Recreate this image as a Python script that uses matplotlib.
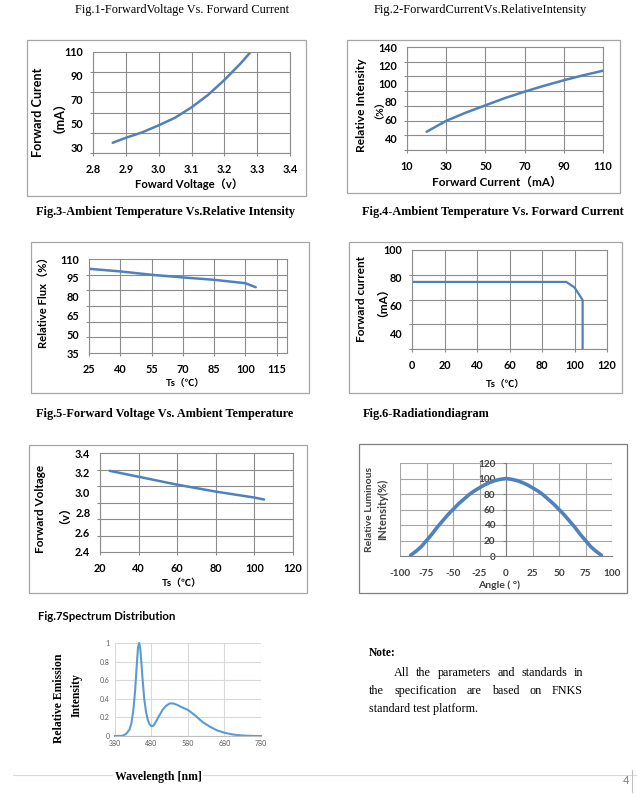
import numpy as np
import matplotlib
matplotlib.use('Agg')
import matplotlib.pyplot as plt
from matplotlib.patches import Rectangle
from matplotlib.lines import Line2D

plt.rcParams['axes.unicode_minus'] = False

W, H = 637, 794

# ---------------- data ----------------
fig1_voltage = [2.86, 2.90, 2.95, 3.00, 3.05, 3.10, 3.15, 3.20, 3.25, 3.28]
fig1_current = [33.6, 37.8, 42.4, 48.3, 54.7, 63.4, 73.8, 86.4, 100.5, 110.0]
fig1_xticks = [2.8, 2.9, 3.0, 3.1, 3.2, 3.3, 3.4]
fig1_yticks = [30, 50, 70, 90, 110]

fig2_current = [20, 30, 40, 50, 60, 70, 80, 90, 100, 110]
fig2_intensity = [47, 59, 68, 76, 84, 91, 97.5, 103.5, 109, 114]
fig2_xticks = [10, 30, 50, 70, 90, 110]
fig2_yticks = [40, 60, 80, 100, 120, 140]

fig3_temp = [25, 40, 55, 70, 85, 100, 105]
fig3_flux = [102.2, 100.1, 97.4, 95.3, 93.4, 90.7, 87.5]
fig3_xticks = [25, 40, 55, 70, 85, 100, 115]
fig3_yticks = [35, 50, 65, 80, 95, 110]

fig4_temp = [0, 95, 100, 105, 105]
fig4_current = [77, 77, 73, 64, 20]
fig4_xticks = [0, 20, 40, 60, 80, 100, 120]
fig4_yticks = [40, 60, 80, 100]

fig5_temp = [25, 40, 60, 80, 100, 105]
fig5_vf = [3.22, 3.16, 3.08, 3.01, 2.95, 2.93]
fig5_xticks = [20, 40, 60, 80, 100, 120]
fig5_yticks = [2.4, 2.6, 2.8, 3.0, 3.2, 3.4]

fig6_angle = [-90, -85, -80, -75, -70, -65, -60, -55, -50, -45, -40, -35, -30, -25, -20, -15, -10, -5, 0,
              5, 10, 15, 20, 25, 30, 35, 40, 45, 50, 55, 60, 65, 70, 75, 80, 85, 90]
fig6_intensity = [1, 6, 12, 20, 28, 37, 45, 53, 60, 67, 73, 79, 84, 88, 92, 95, 97.5, 99, 100,
                  99, 97.5, 95, 92, 88, 84, 79, 73, 67, 60, 53, 45, 37, 28, 20, 12, 6, 1]
fig6_xticks = [-100, -75, -50, -25, 0, 25, 50, 75, 100]
fig6_yticks = [0, 20, 40, 60, 80, 100, 120]

fig7_wavelength = [380, 400, 410, 420, 425, 430, 435, 440, 443, 446, 449, 452, 455, 460, 465, 470, 475, 480,
                   485, 490, 500, 510, 520, 530, 540, 550, 560, 580, 600, 620, 640, 660, 680, 700, 720,
                   740, 760, 780]
fig7_intensity = [0, 0.002, 0.02, 0.07, 0.14, 0.27, 0.48, 0.78, 0.95, 1.0, 0.95, 0.8, 0.64, 0.4, 0.26, 0.17,
                  0.125, 0.105, 0.11, 0.14, 0.21, 0.28, 0.325, 0.35, 0.35, 0.335, 0.315, 0.28, 0.22, 0.15,
                  0.1, 0.06, 0.035, 0.018, 0.008, 0.003, 0.001, 0]
fig7_xticks = [380, 480, 580, 680, 780]
fig7_yticks = [0, 0.2, 0.4, 0.6, 0.8, 1.0]

# ---------------- helpers ----------------
fig = plt.figure(figsize=(W / 100, H / 100), dpi=100)
fig.patch.set_facecolor('white')
R = fig.canvas.get_renderer()

SANS = ['Lato', 'Noto Sans CJK SC', 'DejaVu Sans']
SERIF = ['Liberation Serif', 'Noto Sans CJK SC']
GRID = '#8C8C8C'
BLUE = '#4F81BD'
TICK_SIZE = 7.8


def add_ax(l, t, r, b):
    return fig.add_axes([l / W, 1 - b / H, (r - l) / W, (b - t) / H])


def frame(l, t, r, b, color='#A6A6A6'):
    fig.patches.append(Rectangle((l / W, 1 - b / H), (r - l) / W, (b - t) / H,
                                 transform=fig.transFigure, fill=False, ec=color, lw=0.9))


def fit_text(x, y, s, width, rotation=0, ha='center', **kw):
    t = fig.text(x / W, 1 - y / H, s, ha=ha, va='center', fontsize=10, **kw)
    w = t.get_window_extent(R).width
    t.set_fontsize(10 * width / w)
    t.set_rotation(rotation)
    return t


def sized_text(x, y, s, size, rotation=0, ha='center', **kw):
    return fig.text(x / W, 1 - y / H, s, ha=ha, va='center', fontsize=size, rotation=rotation, **kw)


def style_excel(ax, xlim, ylim, xticks, yticks, ngrid, xfmt='{:g}', yfmt='{:g}'):
    ax.set_xlim(*xlim)
    ax.set_ylim(*ylim)
    ax.set_xticks(xticks)
    ax.set_xticklabels([xfmt.format(v) for v in xticks])
    ax.set_yticks(yticks)
    ax.set_yticklabels([yfmt.format(v) for v in yticks])
    ax.set_yticks(np.linspace(ylim[0], ylim[1], ngrid), minor=True)
    ax.grid(True, which='minor', axis='y', color=GRID, lw=0.8)
    ax.grid(True, which='major', axis='x', color=GRID, lw=0.8)
    ax.tick_params(axis='y', which='major', length=0, pad=7)
    ax.tick_params(axis='y', which='minor', length=2.2, color=GRID, width=0.8)
    ax.tick_params(axis='x', which='major', length=2.2, color=GRID, width=0.8, pad=5.5)
    for sp in ax.spines.values():
        sp.set_color(GRID)
        sp.set_linewidth(0.8)
    for lab in ax.get_xticklabels() + ax.get_yticklabels():
        lab.set_family(SANS)
        lab.set_fontweight('bold')
        lab.set_fontsize(TICK_SIZE)
    ax.set_axisbelow(True)


# ---------------- Fig.1 ----------------
fit_text(182, 10, 'Fig.1-ForwardVoltage Vs. Forward Current', 214, family=SERIF)
frame(27, 40, 306, 196)
ax1 = add_ax(93, 52, 290, 153)
style_excel(ax1, (2.8, 3.4), (25, 110), fig1_xticks, fig1_yticks, 6, xfmt='{:.1f}')
ax1.plot(fig1_voltage, fig1_current, color=BLUE, lw=1.8, solid_capstyle='round')
t = fit_text(38, 112, 'Forward Curent', 90, rotation=90, family=SANS, fontweight='bold')
sized_text(53, 111, '（mA）', t.get_fontsize(), rotation=90, family=SANS, fontweight='bold')
fit_text(189, 184, 'Foward Voltage（v）', 108, family=SANS, fontweight='bold')

# ---------------- Fig.2 ----------------
fit_text(480, 10, 'Fig.2-ForwardCurrentVs.RelativeIntensity', 213, family=SERIF)
frame(347, 40, 620, 193)
ax2 = add_ax(407, 47, 603, 150)
style_excel(ax2, (10, 110), (27, 140), fig2_xticks, fig2_yticks, 8)
ax2.plot(fig2_current, fig2_intensity, color=BLUE, lw=1.8, solid_capstyle='round')
t = fit_text(362, 105, 'Relative Intensity', 94, rotation=90, family=SANS, fontweight='bold')
sized_text(374, 105, '（%）', t.get_fontsize() * 0.85, rotation=90, family=SANS, fontweight='bold')
fit_text(497, 182, 'Forward Current（mA）', 129, family=SANS, fontweight='bold')

# ---------------- Fig.3 ----------------
fit_text(166, 212, 'Fig.3-Ambient Temperature Vs.Relative Intensity', 261, family=SERIF, fontweight='bold')
frame(31, 242, 309, 393)
ax3 = add_ax(89, 259, 287, 353)
style_excel(ax3, (25, 120), (35, 110), fig3_xticks, fig3_yticks, 7)
ax3.plot(fig3_temp, fig3_flux, color=BLUE, lw=1.8, solid_capstyle='round')
fit_text(43, 300, 'Relative Flux（%）', 97, rotation=90, family=SANS, fontweight='bold')
fit_text(185, 383, 'Ts（℃）', 39, family=SANS, fontweight='bold')

# ---------------- Fig.4 ----------------
fit_text(493, 212, 'Fig.4-Ambient Temperature Vs. Forward Current', 262, family=SERIF, fontweight='bold')
frame(349, 242, 622, 393)
ax4 = add_ax(412, 250, 607, 349)
style_excel(ax4, (0, 120), (28.7, 100), fig4_xticks, fig4_yticks, 5)
ax4.plot(fig4_temp, fig4_current, color=BLUE, lw=1.6)
t = fit_text(361, 299, 'Forward current', 86, rotation=90, family=SANS, fontweight='bold')
sized_text(376, 296, '（mA）', t.get_fontsize(), rotation=90, family=SANS, fontweight='bold')
fit_text(505, 384, 'Ts（℃）', 39, family=SANS, fontweight='bold')

# ---------------- Fig.5 ----------------
fit_text(165, 414, 'Fig.5-Forward Voltage Vs. Ambient Temperature', 257, family=SERIF, fontweight='bold')
frame(29, 445, 307, 593)
ax5 = add_ax(100, 453, 293, 552)
style_excel(ax5, (20, 120), (2.4, 3.4), fig5_xticks, fig5_yticks, 7, yfmt='{:.1f}')
ax5.plot(fig5_temp, fig5_vf, color=BLUE, lw=1.8, solid_capstyle='round')
t = fit_text(41, 509, 'Forward Voltage', 88, rotation=90, family=SANS, fontweight='bold')
sized_text(58, 509, '（v）', t.get_fontsize(), rotation=90, family=SANS, fontweight='bold')
fit_text(182, 583, 'Ts（℃）', 40, family=SANS, fontweight='bold')

# ---------------- Fig.6 ----------------
fit_text(363, 414, 'Fig.6-Radiationdiagram', 127, ha='left', family=SERIF, fontweight='bold')
frame(359, 444, 627, 593, color='#7F7F7F')
ax6 = add_ax(400, 463, 612, 556)
ax6.set_xlim(-100, 100)
ax6.set_ylim(0, 120)
ax6.set_xticks(fig6_xticks)
ax6.set_yticks(fig6_yticks)
ax6.grid(True, color='#A6A6A6', lw=0.8)
ax6.set_axisbelow(True)
ax6.spines['left'].set_position(('data', 0))
for k in ['top', 'right']:
    ax6.spines[k].set_visible(False)
ax6.spines['left'].set_color('#808080')
ax6.spines['bottom'].set_color('#808080')
ax6.tick_params(axis='y', length=2.2, color='#808080', pad=5.5)
ax6.tick_params(axis='x', length=0, pad=9)
for lab in ax6.get_xticklabels() + ax6.get_yticklabels():
    lab.set_family(SANS)
    lab.set_fontweight('bold')
    lab.set_fontsize(7.2)
    lab.set_color('#404040')
ax6.plot(fig6_angle, fig6_intensity, color=BLUE, lw=2.6, solid_capstyle='round', zorder=3)
fit_text(369, 510, 'Relative Luminous', 85, rotation=90, family=SANS, fontweight='bold', color='#404040')
fit_text(383, 509, 'INtensity(%)', 61, rotation=90, family=SANS, fontweight='bold', color='#404040')
fit_text(499, 585, 'Angle ( °)', 42, family=SANS, fontweight='bold', color='#404040')

# ---------------- Fig.7 ----------------
fit_text(38, 617, 'Fig.7Spectrum Distribution', 137, ha='left', family=SANS, fontweight='bold')
ax7 = add_ax(115, 643, 261, 736)
ax7.set_xlim(380, 780)
ax7.set_ylim(0, 1)
ax7.set_xticks(fig7_xticks)
ax7.set_yticks(fig7_yticks)
ax7.set_yticklabels(['{:g}'.format(v) for v in fig7_yticks])
ax7.grid(True, color='#D9D9D9', lw=0.8)
ax7.set_axisbelow(True)
for k in ['top', 'right', 'left']:
    ax7.spines[k].set_visible(False)
ax7.spines['bottom'].set_color('#BFBFBF')
ax7.tick_params(axis='both', length=0, labelsize=5, labelcolor='#595959')
ax7.tick_params(axis='y', pad=4)
ax7.tick_params(axis='x', pad=3)
for lab in ax7.get_xticklabels() + ax7.get_yticklabels():
    lab.set_family(SANS)
ax7.plot(fig7_wavelength, fig7_intensity, color='#5B9BD5', lw=1.5, clip_on=False)
fit_text(59, 698, 'Relative Emission', 90, rotation=90, family=SERIF, fontweight='bold')
fit_text(77, 695, 'Intensity', 44, rotation=90, family=SERIF, fontweight='bold')

# footer line and wavelength label
fig.lines.append(Line2D([13 / W, 1], [1 - 775 / H] * 2, transform=fig.transFigure, color='#D9D9D9', lw=0.8))
fit_text(158, 777, 'Wavelength [nm]', 87, family=SERIF, fontweight='bold',
         bbox=dict(fc='white', ec='none', pad=1))
fig.text(626 / W, 1 - 781 / H, '4', ha='center', va='center', fontsize=8, color='#7F7F7F', family=SANS)
fig.lines.append(Line2D([632 / W] * 2, [1 - 770 / H, 1 - 792 / H], transform=fig.transFigure,
                        color='#BFBFBF', lw=0.8))

# ---------------- Note ----------------
fig.text(369 / W, 1 - 653 / H, 'Note:', ha='left', va='center', fontsize=8.3, family=SERIF, fontweight='bold')
t3 = fit_text(369, 709, 'standard test platform.', 109, ha='left', family=SERIF)
note_size = t3.get_fontsize()


def justify_line(text, x0, x1, y, size):
    words = text.split()
    ts = [fig.text(0, 1 - y / H, w, fontsize=size, family=SERIF, va='center', ha='left') for w in words]
    widths = [tt.get_window_extent(R).width for tt in ts]
    gap = (x1 - x0 - sum(widths)) / (len(words) - 1)
    x = x0
    for tt, w in zip(ts, widths):
        tt.set_x(x / W)
        x += w + gap


justify_line('All the parameters and standards in', 394, 583, 673, note_size)
justify_line('the specification are based on FNKS', 369, 583, 691, note_size)

fig.savefig('out.png', dpi=100, facecolor='white')
